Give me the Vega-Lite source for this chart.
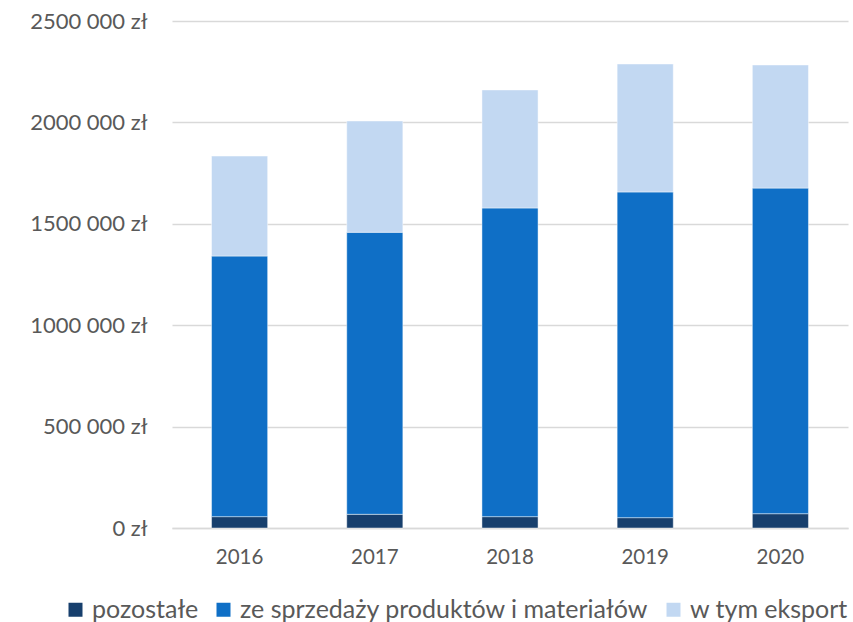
{
  "$schema": "https://vega.github.io/schema/vega-lite/v6.json",
  "autosize": "none",
  "width": 676,
  "height": 507,
  "padding": {"left": 172, "top": 21, "right": 5, "bottom": 94},
  "background": "white",
  "data": {
    "values": [
      {"rok": "2016", "kategoria": "pozostałe", "kolejnosc": 1, "wartosc": 56000},
      {"rok": "2016", "kategoria": "ze sprzedaży produktów i materiałów", "kolejnosc": 2, "wartosc": 1285000},
      {"rok": "2016", "kategoria": "w tym eksport", "kolejnosc": 3, "wartosc": 493000},
      {"rok": "2017", "kategoria": "pozostałe", "kolejnosc": 1, "wartosc": 67500},
      {"rok": "2017", "kategoria": "ze sprzedaży produktów i materiałów", "kolejnosc": 2, "wartosc": 1390500},
      {"rok": "2017", "kategoria": "w tym eksport", "kolejnosc": 3, "wartosc": 549000},
      {"rok": "2018", "kategoria": "pozostałe", "kolejnosc": 1, "wartosc": 56000},
      {"rok": "2018", "kategoria": "ze sprzedaży produktów i materiałów", "kolejnosc": 2, "wartosc": 1522000},
      {"rok": "2018", "kategoria": "w tym eksport", "kolejnosc": 3, "wartosc": 582000},
      {"rok": "2019", "kategoria": "pozostałe", "kolejnosc": 1, "wartosc": 51000},
      {"rok": "2019", "kategoria": "ze sprzedaży produktów i materiałów", "kolejnosc": 2, "wartosc": 1606000},
      {"rok": "2019", "kategoria": "w tym eksport", "kolejnosc": 3, "wartosc": 631000},
      {"rok": "2020", "kategoria": "pozostałe", "kolejnosc": 1, "wartosc": 70500},
      {"rok": "2020", "kategoria": "ze sprzedaży produktów i materiałów", "kolejnosc": 2, "wartosc": 1605500},
      {"rok": "2020", "kategoria": "w tym eksport", "kolejnosc": 3, "wartosc": 607000}
    ]
  },
  "mark": {"type": "bar", "stroke": "#ffffff", "strokeOpacity": 0.45, "strokeWidth": 1},
  "encoding": {
    "x": {
      "field": "rok",
      "type": "ordinal",
      "title": null,
      "scale": {"paddingInner": 0.585, "paddingOuter": 0.2925},
      "axis": {
        "labelAngle": 0,
        "labelFont": "Lato",
        "labelFontSize": 20.5,
        "labelFontWeight": 400,
        "labelColor": "#595959",
        "labelPadding": 19,
        "ticks": false,
        "domain": true,
        "domainColor": "#d9d9d9",
        "domainWidth": 1.3
      }
    },
    "y": {
      "field": "wartosc",
      "type": "quantitative",
      "stack": "zero",
      "title": null,
      "scale": {"domain": [0, 2500000], "nice": false},
      "axis": {
        "values": [0, 500000, 1000000, 1500000, 2000000, 2500000],
        "labelExpr": "datum.value == 0 ? '0 zł' : format(floor(datum.value / 1000), 'd') + ' 000 zł'",
        "labelFont": "Lato",
        "labelFontSize": 22,
        "labelFontWeight": 400,
        "labelColor": "#595959",
        "labelPadding": 25,
        "ticks": false,
        "domain": false,
        "grid": true,
        "gridColor": "#d9d9d9",
        "gridWidth": 1.3
      }
    },
    "color": {
      "field": "kategoria",
      "type": "nominal",
      "scale": {
        "domain": ["pozostałe", "ze sprzedaży produktów i materiałów", "w tym eksport"],
        "range": ["#173f6d", "#0f6fc6", "#c2d8f2"]
      },
      "legend": {
        "title": null,
        "orient": "none",
        "direction": "horizontal",
        "legendX": -109,
        "legendY": 576,
        "symbolType": "square",
        "symbolSize": 196,
        "symbolStrokeWidth": 0,
        "labelFont": "Lato",
        "labelFontSize": 25,
        "labelFontWeight": 400,
        "labelColor": "#595959",
        "labelOffset": 4,
        "columnPadding": 12,
        "labelLimit": 700
      }
    },
    "order": {"field": "kolejnosc", "type": "quantitative"}
  },
  "config": {"view": {"stroke": null}}
}
